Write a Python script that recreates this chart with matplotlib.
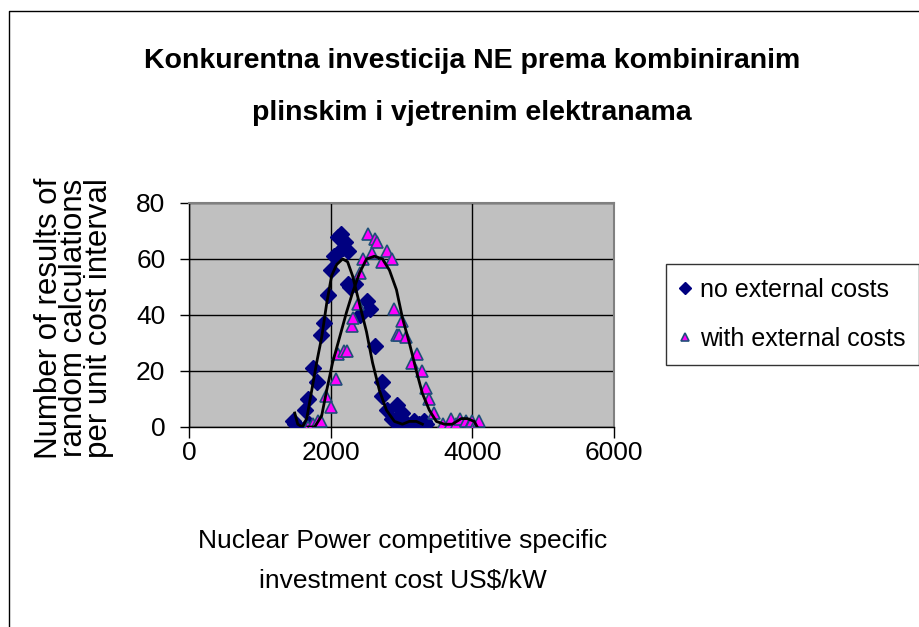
import matplotlib
matplotlib.use("Agg")
import matplotlib.pyplot as plt
from matplotlib.lines import Line2D

FONT = "Liberation Sans"

title = "Konkurentna investicija NE prema kombiniranim\nplinskim i vjetrenim elektranama"
xlabel = "Nuclear Power competitive specific\ninvestment cost US$/kW"
ylabel = "Number of results of\nrandom calculations\nper unit cost interval"
series_names = ["no external costs", "with external costs"]
x_ticks = [0, 2000, 4000, 6000]
y_ticks = [0, 20, 40, 60, 80]

no_ext_x = [1470, 1500, 1540, 1640, 1680, 1700, 1750, 1810, 1870, 1910,
            1960, 2010, 2050, 2100, 2150, 2170, 2200, 2240, 2270, 2240,
            2340, 2410, 2510, 2550, 2620, 2720, 2730, 2800, 2870, 2930,
            2950, 3010, 3080, 3110, 3180, 3250, 3320, 3350]
no_ext_y = [2, 1, 0, 6, 10, 1, 21, 16, 33, 37,
            47, 56, 61, 68, 69, 64, 66, 63, 50, 51,
            51, 40, 45, 42, 29, 16, 11, 6, 3, 8,
            1, 5, 1, 0, 2, 1, 2, 1]

ext_x = [1680, 1750, 1820, 1870, 1940, 2010, 2080, 2100, 2190, 2230,
         2300, 2310, 2380, 2410, 2450, 2520, 2580, 2620, 2660, 2730,
         2800, 2870, 2900, 2930, 2970, 3000, 3070, 3150, 3220, 3290,
         3350, 3390, 3460, 3580, 3680, 3700, 3770, 3820, 3910, 3960,
         4000, 4030, 4100]
ext_y = [0, 1, 2, 2, 11, 7, 17, 26, 27, 27,
         36, 39, 44, 55, 60, 69, 62, 67, 66, 59,
         63, 60, 42, 33, 33, 38, 32, 23, 26, 20,
         14, 10, 5, 1, 1, 3, 1, 3, 2, 1,
         2, 0, 2]

fit1_x = [1493, 1535, 1600, 1662, 1732, 1802, 1873, 1943, 2013, 2084, 2168,
          2239, 2309, 2407, 2506, 2591, 2689, 2788, 2900, 3013, 3111, 3210, 3295]
fit1_y = [5, 1, 0, 3, 13, 23, 32, 44, 54, 58, 60,
          59, 54, 44, 34, 23, 13, 6, 2, 1, 2, 2, 1]

fit2_x = [1676, 1774, 1873, 1943, 2027, 2126, 2224, 2309, 2407, 2506, 2619,
          2731, 2830, 2929, 3013, 3111, 3210, 3295, 3393, 3492, 3604, 3717,
          3843, 3928, 4027, 4069]
fit2_y = [0, 0, 4, 13, 23, 32, 41, 48, 55, 60, 61,
          60, 56, 49, 39, 30, 20, 12, 6, 2, 1, 1,
          3, 3, 2, 0]

W, H = 919, 627
fig = plt.figure(figsize=(W / 100, H / 100), dpi=100)
ax = fig.add_axes([189 / W, 1 - 427 / H, (614 - 189) / W, (427 - 203) / H])
ax.set_facecolor("#C0C0C0")
ax.set_xlim(0, 6000)
ax.set_ylim(0, 80)
ax.set_xticks(x_ticks)
ax.set_yticks(y_ticks)
ax.grid(True, color="black", linewidth=1.0)
ax.set_axisbelow(True)

ax.plot(no_ext_x, no_ext_y, linestyle="none", marker="D", markersize=8.5,
        color="#000080", mec="#000080", label=series_names[0], zorder=3)
ax.plot(ext_x, ext_y, linestyle="none", marker="^", markersize=9,
        color="#FF00FF", mec="#1F4E79", mew=1.2, label=series_names[1], zorder=3)
ax.plot(fit1_x, fit1_y, color="black", linewidth=2.0, zorder=4)
ax.plot(fit2_x, fit2_y, color="black", linewidth=2.0, zorder=4)

for s in ["top", "right"]:
    ax.spines[s].set_color("#808080")
    ax.spines[s].set_linewidth(1.5)
for s in ["left", "bottom"]:
    ax.spines[s].set_color("black")
    ax.spines[s].set_linewidth(1.0)

ax.tick_params(axis="x", direction="out", length=8, width=1, pad=2,
               labelsize=19)
ax.tick_params(axis="y", direction="out", length=6.5, width=1, pad=10.5,
               labelsize=19)
for lab in ax.get_xticklabels() + ax.get_yticklabels():
    lab.set_family(FONT)

fig.text(472 / W, 1 - 87 / H, title, ha="center", va="center",
         fontsize=20.5, fontweight="bold", family=FONT, linespacing=2.3)
fig.text(403 / W, 1 - 561 / H, xlabel, ha="center", va="center",
         fontsize=19, family=FONT, linespacing=1.8)
fig.text(74 / W, 1 - 318 / H, ylabel, ha="center", va="center",
         rotation=90, fontsize=22.5, family=FONT, linespacing=0.8)

leg = fig.legend(loc="upper left", bbox_to_anchor=(666 / W, 1 - 264 / H),
                 frameon=True, fancybox=False, edgecolor="black",
                 prop={"family": FONT, "size": 18}, handlelength=0.4,
                 handletextpad=0.4, borderpad=0.55, labelspacing=1.0,
                 markerscale=0.7, borderaxespad=0)
leg.get_frame().set_linewidth(1.0)

fig.add_artist(Line2D([8.5 / W, 8.5 / W, 1.0], [0.0, 1 - 10.5 / H, 1 - 10.5 / H],
                      transform=fig.transFigure, color="black", linewidth=1.0))

fig.savefig("out.png", dpi=100)
